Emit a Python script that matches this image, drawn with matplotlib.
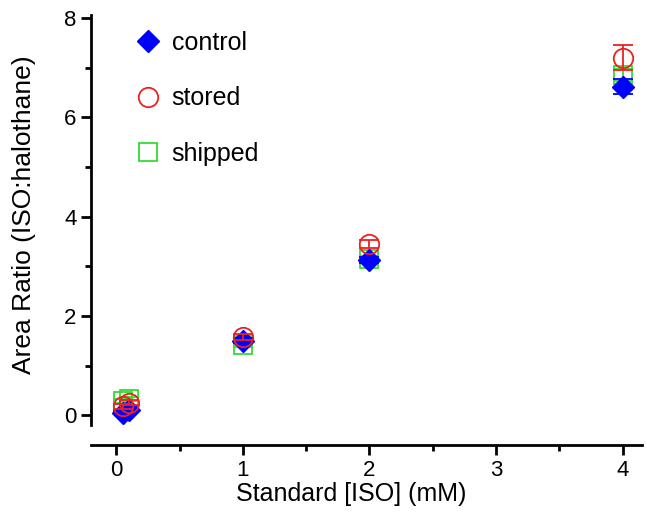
import matplotlib
matplotlib.use("Agg")
import matplotlib.pyplot as plt
from matplotlib.lines import Line2D
from matplotlib.ticker import MultipleLocator

plt.rcParams['font.family'] = ['Liberation Sans', 'DejaVu Sans']

# concentrations (mM)
conc = [0.05, 0.1, 1, 2, 4]

# area ratios and error bars
control = [0.05, 0.1, 1.5, 3.12, 6.62]
control_err = [0.03, 0.03, 0.05, 0.06, 0.15]
stored = [0.18, 0.25, 1.58, 3.45, 7.2]
stored_err = [0.05, 0.05, 0.06, 0.08, 0.25]
shipped = [0.28, 0.32, 1.42, 3.15, 6.85]
shipped_err = [0.04, 0.04, 0.05, 0.06, 0.12]

fig = plt.figure(figsize=(6.47, 5.17), dpi=100)
ax = fig.add_axes([0.1406, 0.139, 0.851, 0.832])

blue = '#0000ff'
red = '#ee2020'
green = '#33dd33'

ax.errorbar(conc, shipped, yerr=shipped_err, fmt='s', ms=12.5, mfc='none',
            mec=green, mew=1.3, ecolor=green, elinewidth=1.3, capsize=7,
            capthick=1.3, zorder=2)
ax.errorbar(conc, control, yerr=control_err, fmt='D', ms=11, mfc=blue,
            mec=blue, ecolor=blue, elinewidth=1.3, capsize=7,
            capthick=1.3, zorder=3)
ax.errorbar(conc, stored, yerr=stored_err, fmt='o', ms=14, mfc='none',
            mec=red, mew=1.3, ecolor=red, elinewidth=1.3, capsize=7,
            capthick=1.3, zorder=4)

ax.set_xlim(-0.2, 4.15)
ax.set_ylim(-0.6, 8.06)

ax.spines['top'].set_visible(False)
ax.spines['right'].set_visible(False)
ax.spines['left'].set_linewidth(2)
ax.spines['bottom'].set_linewidth(2)
ax.spines['left'].set_bounds(-0.2, 8.06)

ax.xaxis.set_major_locator(MultipleLocator(1))
ax.xaxis.set_minor_locator(MultipleLocator(0.5))
ax.yaxis.set_major_locator(MultipleLocator(2))
ax.yaxis.set_minor_locator(MultipleLocator(1))
ax.tick_params(which='major', direction='out', length=7, width=2, labelsize=16)
ax.tick_params(which='minor', direction='out', length=4, width=2)

ax.set_xlabel('Standard [ISO] (mM)', fontsize=18)
ax.set_ylabel('Area Ratio (ISO:halothane)', fontsize=19)
ax.xaxis.set_label_coords(0.472, -0.085)
ax.yaxis.set_label_coords(-0.10, 0.535)

handles = [
    Line2D([], [], ls='none', marker='D', ms=11, mfc=blue, mec=blue),
    Line2D([], [], ls='none', marker='o', ms=14, mfc='none', mec=red, mew=1.3),
    Line2D([], [], ls='none', marker='s', ms=12.5, mfc='none', mec=green, mew=1.3),
]
ax.legend(handles, ['control', 'stored', 'shipped'],
          loc='upper left', frameon=False, fontsize=18, labelspacing=1.25,
          handlelength=1.0, handletextpad=0.45, bbox_to_anchor=(0.04, 1.015))

fig.savefig('out.png', dpi=100)
